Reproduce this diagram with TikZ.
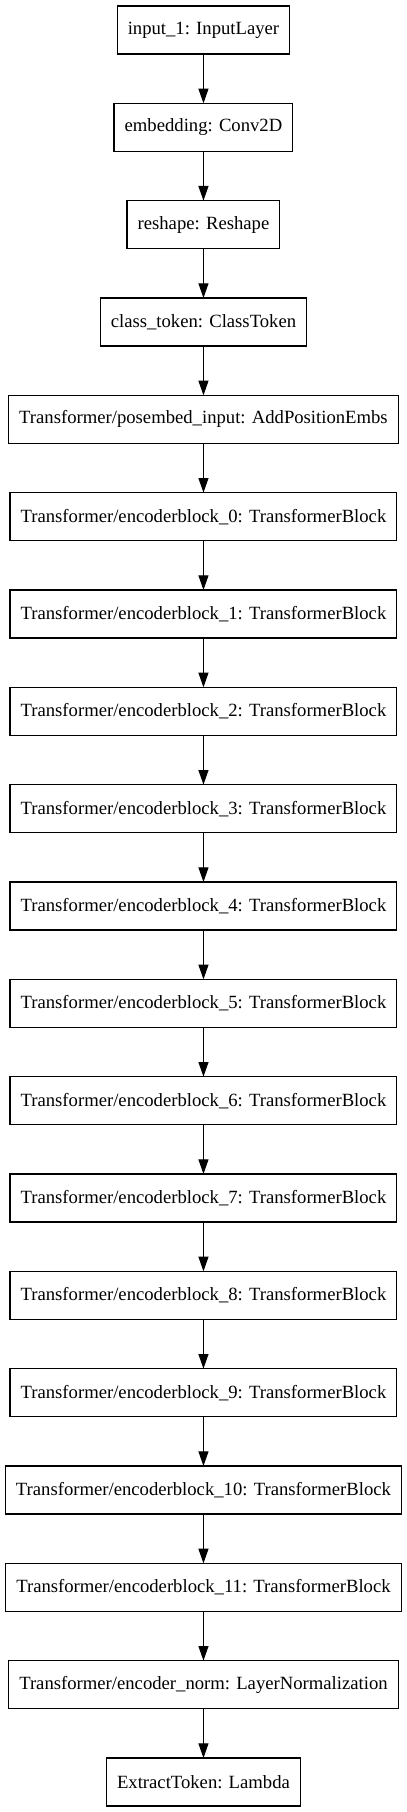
\documentclass[tikz,border=0pt]{standalone}
\usepackage{fontspec}
\setmainfont{Liberation Serif}
\usetikzlibrary{arrows.meta,positioning}

\begin{document}
\begin{tikzpicture}[node distance=37pt,
    layer/.style={draw, line width=0.8pt, minimum height=36pt, inner xsep=8pt,
        outer sep=0pt, font=\fontsize{14pt}{17pt}\selectfont},
    >={Triangle[length=11pt,width=7.5pt]}, line width=0.8pt]
 \useasboundingbox (-152.6pt,22.5pt) rectangle (152.6pt,-1336.5pt);

 \node[layer] (input) {input\_1: InputLayer};
 \node[layer, below=of input] (embedding) {embedding: Conv2D}
     edge[<-] (input);
 \node[layer, below=of embedding] (reshape) {reshape: Reshape}
     edge[<-] (embedding);
 \node[layer, below=of reshape] (classtoken) {class\_token: ClassToken}
     edge[<-] (reshape);
 \node[layer, below=of classtoken] (posembed) {Transformer/posembed\_input: AddPositionEmbs}
     edge[<-] (classtoken);

 \node[layer, below=of posembed] (block0) {Transformer/encoderblock\_0: TransformerBlock}
     edge[<-] (posembed);
 \node[layer, below=of block0] (block1) {Transformer/encoderblock\_1: TransformerBlock}
     edge[<-] (block0);
 \node[layer, below=of block1] (block2) {Transformer/encoderblock\_2: TransformerBlock}
     edge[<-] (block1);
 \node[layer, below=of block2] (block3) {Transformer/encoderblock\_3: TransformerBlock}
     edge[<-] (block2);
 \node[layer, below=of block3] (block4) {Transformer/encoderblock\_4: TransformerBlock}
     edge[<-] (block3);
 \node[layer, below=of block4] (block5) {Transformer/encoderblock\_5: TransformerBlock}
     edge[<-] (block4);
 \node[layer, below=of block5] (block6) {Transformer/encoderblock\_6: TransformerBlock}
     edge[<-] (block5);
 \node[layer, below=of block6] (block7) {Transformer/encoderblock\_7: TransformerBlock}
     edge[<-] (block6);
 \node[layer, below=of block7] (block8) {Transformer/encoderblock\_8: TransformerBlock}
     edge[<-] (block7);
 \node[layer, below=of block8] (block9) {Transformer/encoderblock\_9: TransformerBlock}
     edge[<-] (block8);
 \node[layer, below=of block9] (block10) {Transformer/encoderblock\_10: TransformerBlock}
     edge[<-] (block9);
 \node[layer, below=of block10] (block11) {Transformer/encoderblock\_11: TransformerBlock}
     edge[<-] (block10);

 \node[layer, below=of block11] (encnorm) {Transformer/encoder\_norm: LayerNormalization}
     edge[<-] (block11);
 \node[layer, below=of encnorm] (extract) {ExtractToken: Lambda}
     edge[<-] (encnorm);
\end{tikzpicture}
\end{document}
